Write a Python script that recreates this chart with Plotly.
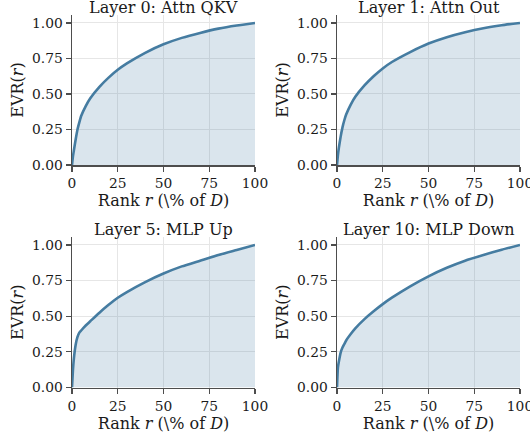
import plotly.graph_objects as go

W, H = 530, 433

rank_pct = [0, 0.5, 1, 2, 3, 4, 5, 7.5, 10, 15, 20, 25, 30, 40, 50, 60, 70, 80, 90, 100]

evr_layer0_qkv = [0, 0.06, 0.10, 0.18, 0.25, 0.30, 0.345, 0.415, 0.47, 0.55, 0.615, 0.67,
                  0.715, 0.79, 0.85, 0.895, 0.93, 0.96, 0.982, 1.0]
evr_layer1_out = [0, 0.07, 0.12, 0.20, 0.265, 0.315, 0.355, 0.425, 0.48, 0.56, 0.625, 0.68,
                  0.725, 0.795, 0.855, 0.90, 0.935, 0.963, 0.984, 1.0]
evr_layer5_up = [0, 0.12, 0.20, 0.30, 0.355, 0.385, 0.40, 0.435, 0.465, 0.525, 0.58, 0.63,
                 0.67, 0.74, 0.80, 0.85, 0.89, 0.93, 0.965, 1.0]
evr_layer10_down = [0, 0.14, 0.18, 0.245, 0.28, 0.305, 0.33, 0.375, 0.415, 0.48, 0.535, 0.585,
                    0.63, 0.71, 0.78, 0.84, 0.89, 0.93, 0.967, 1.0]

titles = ["Layer 0: Attn QKV", "Layer 1: Attn Out", "Layer 5: MLP Up", "Layer 10: MLP Down"]
series = [evr_layer0_qkv, evr_layer1_out, evr_layer5_up, evr_layer10_down]

x_ticks = [0, 25, 50, 75, 100]
y_ticks = [0, 0.25, 0.5, 0.75, 1.0]
y_tick_labels = ["0.00", "0.25", "0.50", "0.75", "1.00"]

LINE = "#457ca1"
FILL = "rgba(70,125,163,0.2)"
FONT = "DejaVu Serif"
TXT = "#1a1a1a"

# panel pixel boxes: (left, right, top, bottom)
boxes = [(72, 255, 15, 165), (337, 520, 15, 165),
         (72, 255, 237, 387.5), (337, 520, 237, 387.5)]

fig = go.Figure()
layout = dict(width=W, height=H, margin=dict(l=0, r=0, t=0, b=0),
              paper_bgcolor="white", plot_bgcolor="white", showlegend=False,
              font=dict(family=FONT, size=14, color=TXT))
annotations = []
for i, (ys, title, box) in enumerate(zip(series, titles, boxes)):
    n = "" if i == 0 else str(i + 1)
    fig.add_trace(go.Scatter(x=rank_pct, y=ys, mode="lines",
                             line=dict(color=LINE, width=2.6, shape="spline", smoothing=0.5),
                             fill="tozeroy", fillcolor=FILL,
                             xaxis="x" + n, yaxis="y" + n, hoverinfo="skip"))
    l, r, t, b = box
    common = dict(showline=True, linecolor="#4d4d4d", linewidth=1.5,
                  ticks="outside", ticklen=5, tickwidth=1.2, tickcolor="#4d4d4d",
                  showgrid=True, gridcolor="#e6e6e6", gridwidth=1, zeroline=False,
                  automargin=False, ticklabeloverflow="allow",
                  tickfont=dict(family=FONT, size=13.8, color=TXT))
    layout["xaxis" + n] = dict(common, domain=[l / W, r / W], range=[0, 100],
                               tickvals=x_ticks, anchor="y" + n,
                               title=dict(text="Rank <i>r</i> (\\% of <i>D</i>)",
                                          font=dict(family=FONT, size=16, color=TXT), standoff=0))
    layout["yaxis" + n] = dict(common, domain=[1 - b / H, 1 - t / H], range=[0, 1.056],
                               tickvals=y_ticks, ticktext=y_tick_labels, anchor="x" + n,
                               title=dict(text="EVR(<i>r</i>)",
                                          font=dict(family=FONT, size=16, color=TXT), standoff=4))
    annotations.append(dict(text=title, x=(l + r) / 2 / W, y=1 - (t + 4) / H,
                            xref="paper", yref="paper", xanchor="center", yanchor="bottom",
                            showarrow=False, font=dict(family=FONT, size=16, color=TXT)))
layout["annotations"] = annotations
fig.update_layout(**layout)
fig.write_html("out.html", config={"displayModeBar": False, "staticPlot": True},
               post_script="document.body.style.margin='0';document.body.style.overflow='hidden';")
